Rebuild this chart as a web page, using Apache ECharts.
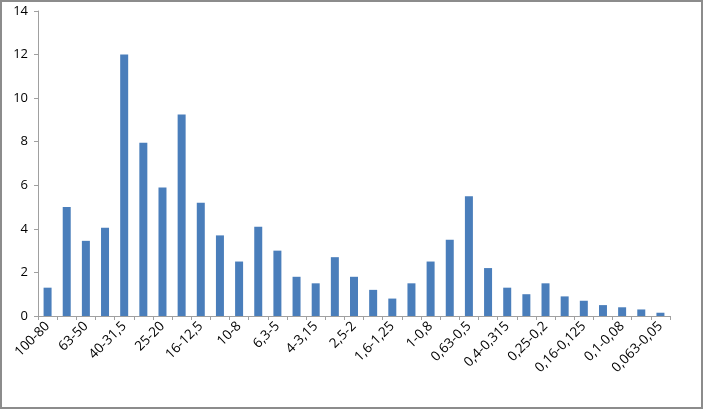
<!DOCTYPE html>
<html>
<head>
<meta charset="utf-8">
<script src="https://cdn.jsdelivr.net/npm/echarts@6/dist/echarts.min.js"></script>
<style>
  html, body { margin: 0; padding: 0; background: #fff; }
  #main { width: 703px; height: 409px; box-sizing: border-box; border: 2px solid #8c8c8c; }
</style>
</head>
<body>
<div id="main"></div>
<script>
// fractions (mm)
const categories = [
    '100-80', '80-63', '63-50', '50-40', '40-31,5', '31,5-25', '25-20', '20-16',
    '16-12,5', '12,5-10', '10-8', '8-6,3', '6,3-5', '5-4', '4-3,15', '3,15-2,5',
    '2,5-2', '2-1,6', '1,6-1,25', '1,25-1', '1-0,8', '0,8-0,63', '0,63-0,5', '0,5-0,4',
    '0,4-0,315', '0,315-0,25', '0,25-0,2', '0,2-0,16', '0,16-0,125', '0,125-0,1',
    '0,1-0,08', '0,08-0,063', '0,063-0,05'
];
const values = [
    1.3, 5, 3.45, 4.05, 12, 7.95, 5.9, 9.25,
    5.2, 3.7, 2.5, 4.1, 3, 1.8, 1.5, 2.7,
    1.8, 1.2, 0.8, 1.5, 2.5, 3.5, 5.5, 2.2,
    1.3, 1.0, 1.5, 0.9, 0.7, 0.5,
    0.4, 0.3, 0.15
];
const yTicks = { min: 0, max: 14, interval: 2 };

window.onload = function () {
    let myChart = echarts.init(document.getElementById('main'));
    let option = {
        animation: false,
        grid: { left: 36, right: 31, top: 9, bottom: 91 },
        xAxis: {
            type: 'category',
            data: categories,
            axisLine: { lineStyle: { color: '#a0a0a0' } },
            axisTick: { show: true, interval: 0, length: 4, lineStyle: { color: '#a0a0a0' } },
            axisLabel: {
                interval: 1,
                rotate: 45,
                color: '#000',
                fontSize: 13.5,
                fontFamily: 'Open Sans',
                margin: 8
            }
        },
        yAxis: {
            type: 'value',
            min: yTicks.min,
            max: yTicks.max,
            interval: yTicks.interval,
            splitLine: { show: false },
            axisLine: { show: true, lineStyle: { color: '#a0a0a0' } },
            axisTick: { show: true, length: 4, lineStyle: { color: '#a0a0a0' } },
            axisLabel: { color: '#000', fontSize: 13, fontFamily: 'Open Sans', margin: 10 }
        },
        series: [{
            type: 'bar',
            data: values,
            barWidth: 8,
            itemStyle: { color: '#4a7ebb' }
        }]
    };
    myChart.setOption(option);
};
</script>
</body>
</html>
